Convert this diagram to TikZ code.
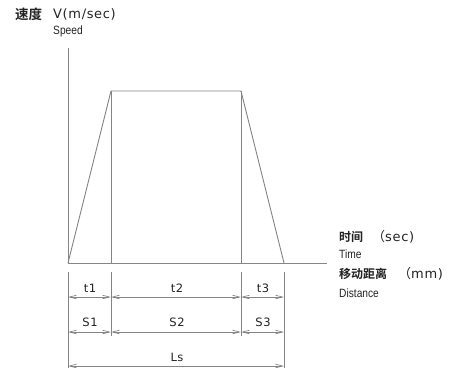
\documentclass[tikz,border=0pt]{standalone}
\usepackage{fontspec}
\setmainfont{Liberation Sans}
\newfontfamily\cjk{Noto Sans CJK SC}
\newfontfamily\cjkb{Noto Sans CJK SC Bold}
\newfontfamily\wide[LetterSpace=5]{DejaVu Sans}
\usetikzlibrary{arrows.meta}
\definecolor{ln}{HTML}{858585}
\definecolor{tx}{HTML}{222222}
\tikzset{
  ax/.style={draw=ln, line width=0.9pt},
  dim/.style={draw=ln, line width=0.7pt, {Straight Barb[length=7pt,width=3.5pt]}-{Straight Barb[length=7pt,width=3.5pt]}},
  lbl/.style={text=tx, font=\wide\fontsize{11.5}{11.5}\selectfont, inner sep=0pt},
  big/.style={text=tx, font=\wide\fontsize{13}{13}\selectfont, inner sep=0pt, anchor=west},
  bigb/.style={text=tx, font=\cjkb\fontsize{12}{12}\selectfont, inner sep=0pt, anchor=west},
  sm/.style={text=tx, font=\fontsize{12}{12}\selectfont, inner sep=0pt, anchor=west},
}
\newcommand{\cond}[1]{\scalebox{0.85}[1]{#1}}
\begin{document}
\begin{tikzpicture}[x=1pt,y=-1pt]
\useasboundingbox (0,0) rectangle (451,372);
% axes
\coordinate (o) at (68,263);
\coordinate (ytop) at (68,48);
\coordinate (xend) at (327,263);
\coordinate (p1) at (111,91);
\coordinate (p2) at (241,91);
\coordinate (p3) at (284,263);
\coordinate (b1) at (111,263);
\coordinate (b2) at (241,263);
\draw[ax] (ytop) -- (o) -- (xend);
\draw[ax] (o) -- (p1) -- (p2) -- (p3);
\draw[ax] (p1) -- (b1);
\draw[ax] (p2) -- (b2);
% extension lines
\coordinate (e0a) at (68,272); \coordinate (e0b) at (68,368);
\coordinate (e1a) at (111,272); \coordinate (e1b) at (111,336);
\coordinate (e2a) at (241,272); \coordinate (e2b) at (241,336);
\coordinate (e3a) at (284,272); \coordinate (e3b) at (284,368);
\draw[ax,line width=0.7pt] (e0a) -- (e0b);
\draw[ax,line width=0.7pt] (e1a) -- (e1b);
\draw[ax,line width=0.7pt] (e2a) -- (e2b);
\draw[ax,line width=0.7pt] (e3a) -- (e3b);
% dimension rows
\coordinate (t0) at (68,297); \coordinate (t1) at (111,297); \coordinate (t2) at (241,297); \coordinate (t3) at (284,297);
\coordinate (s0) at (68,332); \coordinate (s1) at (111,332); \coordinate (s2) at (241,332); \coordinate (s3) at (284,332);
\coordinate (l0) at (68,366); \coordinate (l3) at (284,366);
\draw[dim] (t0) -- (t1);
\draw[dim] (t1) -- (t2);
\draw[dim] (t2) -- (t3);
\draw[dim] (s0) -- (s1);
\draw[dim] (s1) -- (s2);
\draw[dim] (s2) -- (s3);
\draw[dim] (l0) -- (l3);
\node[lbl] (lt1) at (90,288) {t1};
\node[lbl] (lt2) at (177,288) {t2};
\node[lbl] (lt3) at (263,288) {t3};
\node[lbl] (ls1) at (90,322) {S1};
\node[lbl] (ls2) at (177,322) {S2};
\node[lbl] (ls3) at (263,322) {S3};
\node[lbl] (lls) at (177,357) {Ls};
% axis labels
\node[bigb,font=\cjkb\fontsize{13.5}{13.5}\selectfont] (sd) at (15,14) {速度};
\node[big] (vu) at (53,14) {V(m/sec)};
\node[sm] (sp) at (53,31) {\cond{Speed}};
\node[bigb] (sj) at (339,237) {时间};
\node[big] (su) at (372,237) {\cjk（\wide sec)};
\node[sm] (ti) at (339,254) {\cond{Time}};
\node[bigb] (jl) at (339,274) {移动距离};
\node[big] (mu) at (398,274) {\cjk（\wide mm)};
\node[sm] (di) at (339,293) {\cond{Distance}};
\end{tikzpicture}
\end{document}
